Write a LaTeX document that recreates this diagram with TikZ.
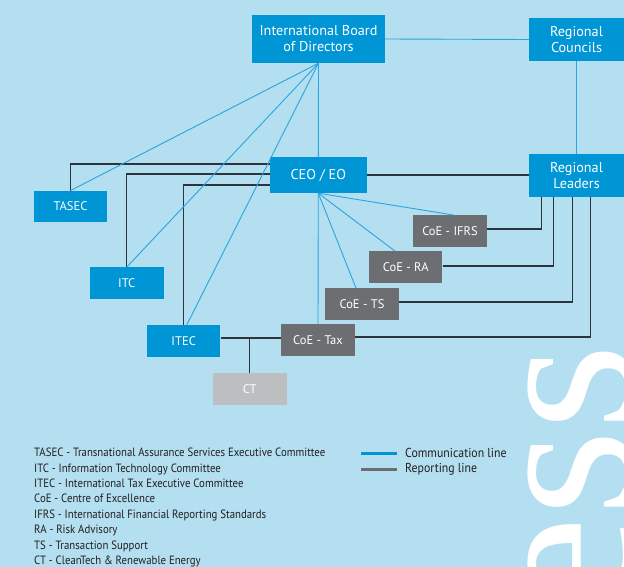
\documentclass[tikz,border=0pt]{standalone}
\usepackage{fontspec}
\setmainfont{PT Sans}
\newfontfamily\keyfont[FakeStretch=0.9]{PT Sans}
\newfontfamily\sidefont[FakeStretch=0.91]{PT Sans}
\newfontfamily\bigfont{Liberation Serif}
\usetikzlibrary{calc}

\definecolor{bgblue}{RGB}{179,223,241}
\definecolor{boxblue}{RGB}{0,150,214}
\definecolor{boxgrey}{RGB}{109,110,113}
\definecolor{boxlight}{RGB}{188,190,192}
\definecolor{commblue}{RGB}{41,166,222}
\definecolor{repgrey}{RGB}{45,52,60}
\definecolor{keytext}{RGB}{35,31,32}

\begin{document}
\begin{tikzpicture}[x=1pt,y=-1pt,
  every node/.style={font=\fontsize{12.5}{15.5}\selectfont,text=white,inner sep=0pt,align=center},
  head/.style={fill=boxblue,font=\fontsize{14.2}{16}\selectfont},
  unit/.style={fill=boxblue,minimum width=73.5pt,minimum height=31.5pt},
  coe/.style={fill=boxgrey,minimum width=73.5pt,minimum height=31.5pt},
  key/.style={font=\keyfont\fontsize{12}{15.4}\selectfont,text=keytext,align=left},
  side/.style={font=\sidefont\fontsize{13}{15}\selectfont,text=keytext,anchor=west},
  comm/.style={draw=commblue,line width=0.9pt},
  report/.style={draw=repgrey,line width=1.2pt}]
\useasboundingbox (0,0) rectangle (624,567);
\fill[bgblue] (0,0) rectangle (624,567);
% big lettering at the right edge
\begin{scope}
\clip (0,0) rectangle (624,567);
\node[rotate=90,anchor=base east] (ess) at (632,344) {\bigfont\fontsize{222}{222}\selectfont ess};
\end{scope}

% boxes
\node[head,minimum width=133pt,minimum height=48pt] (board) at (318.5,39) {International Board\\of Directors};
\node[head,minimum width=95pt,minimum height=43pt] (councils) at (576.5,39.5) {Regional\\Councils};
\node[head,minimum width=96.5pt,minimum height=36pt] (ceo) at (318.3,175) {CEO / EO};
\node[head,minimum width=95pt,minimum height=43pt] (leaders) at (576.5,175.5) {Regional\\Leaders};
\node[unit] (tasec) at (70.5,206.5) {TASEC};
\node[unit] (itc) at (126.8,283) {ITC};
\node[unit] (itec) at (183.7,341) {ITEC};
\node[coe] (ifrs) at (450,231) {CoE - IFRS};
\node[coe] (ra) at (405.7,267) {CoE - RA};
\node[coe] (ts) at (362,304) {CoE - TS};
\node[coe] (tax) at (318,340) {CoE - Tax};
\node[coe,fill=boxlight] (ct) at (249.8,389) {CT};

% reporting lines
\draw[report] (tasec.north) |- ($(ceo.west)+(0,-11)$);
\draw[report] (itc.north) |- ($(ceo.west)+(0,-1)$);
\draw[report] (itec.north) |- ($(ceo.west)+(0,10)$);
\draw[report] (ceo.east) -- (ceo.east -| leaders.west);
\draw[report] ($(itec.east)+(0,-3)$) -- ($(itec.east -| tax.west)+(0,-3)$);
\draw[report] (ct.north) -- ($(ct.north |- itec.east)+(0,-3)$);
\draw[report] ($(tax.east)+(0,-3)$) -| ([xshift=14pt]leaders.south);
\draw[report] ($(ts.east)+(0,-2)$) -| ([xshift=-4.3pt]leaders.south);
\draw[report] ($(ra.east)+(0,-1)$) -| ([xshift=-23pt]leaders.south);
\draw[report] ($(ifrs.east)+(0,-2)$) -| ([xshift=-35.3pt]leaders.south);

% communication lines
\draw[comm] (board.east) -- (councils.west);
\draw[comm] (councils.south) -- (leaders.north);
\draw[comm] (board.south) -- (ceo.north);
\draw[comm] (board.south) -- (tasec.north);
\draw[comm] (board.south) -- (itc.north);
\draw[comm] (board.south) -- ([xshift=3pt]itec.north);
\draw[comm] (ceo.south) -- ([xshift=3.6pt]ifrs.north);
\draw[comm] (ceo.south) -- ([xshift=-10.7pt]ra.north);
\draw[comm] (ceo.south) -- ([xshift=-6pt]ts.north);
\draw[comm] (ceo.south) -- (tax.north);

% legend
\node[key,anchor=north west] (abbrev) at (34,448) {TASEC - Transnational Assurance Services Executive Committee\\
ITC - Information Technology Committee\\
ITEC - International Tax Executive Committee\\
CoE - Centre of Excellence\\
IFRS - International Financial Reporting Standards\\
RA - Risk Advisory\\
TS - Transaction Support\\
CT - CleanTech \& Renewable Energy};
\node[side] (commkey) at (405,453) {Communication line};
\node[side] (repkey) at (405,469) {Reporting line};
\draw[boxblue,line width=3pt] ([xshift=-8pt]commkey.west) -- ++(-36,0);
\draw[boxgrey,line width=3pt] ([xshift=-8pt]repkey.west) -- ++(-36,0);
\end{tikzpicture}
\end{document}
